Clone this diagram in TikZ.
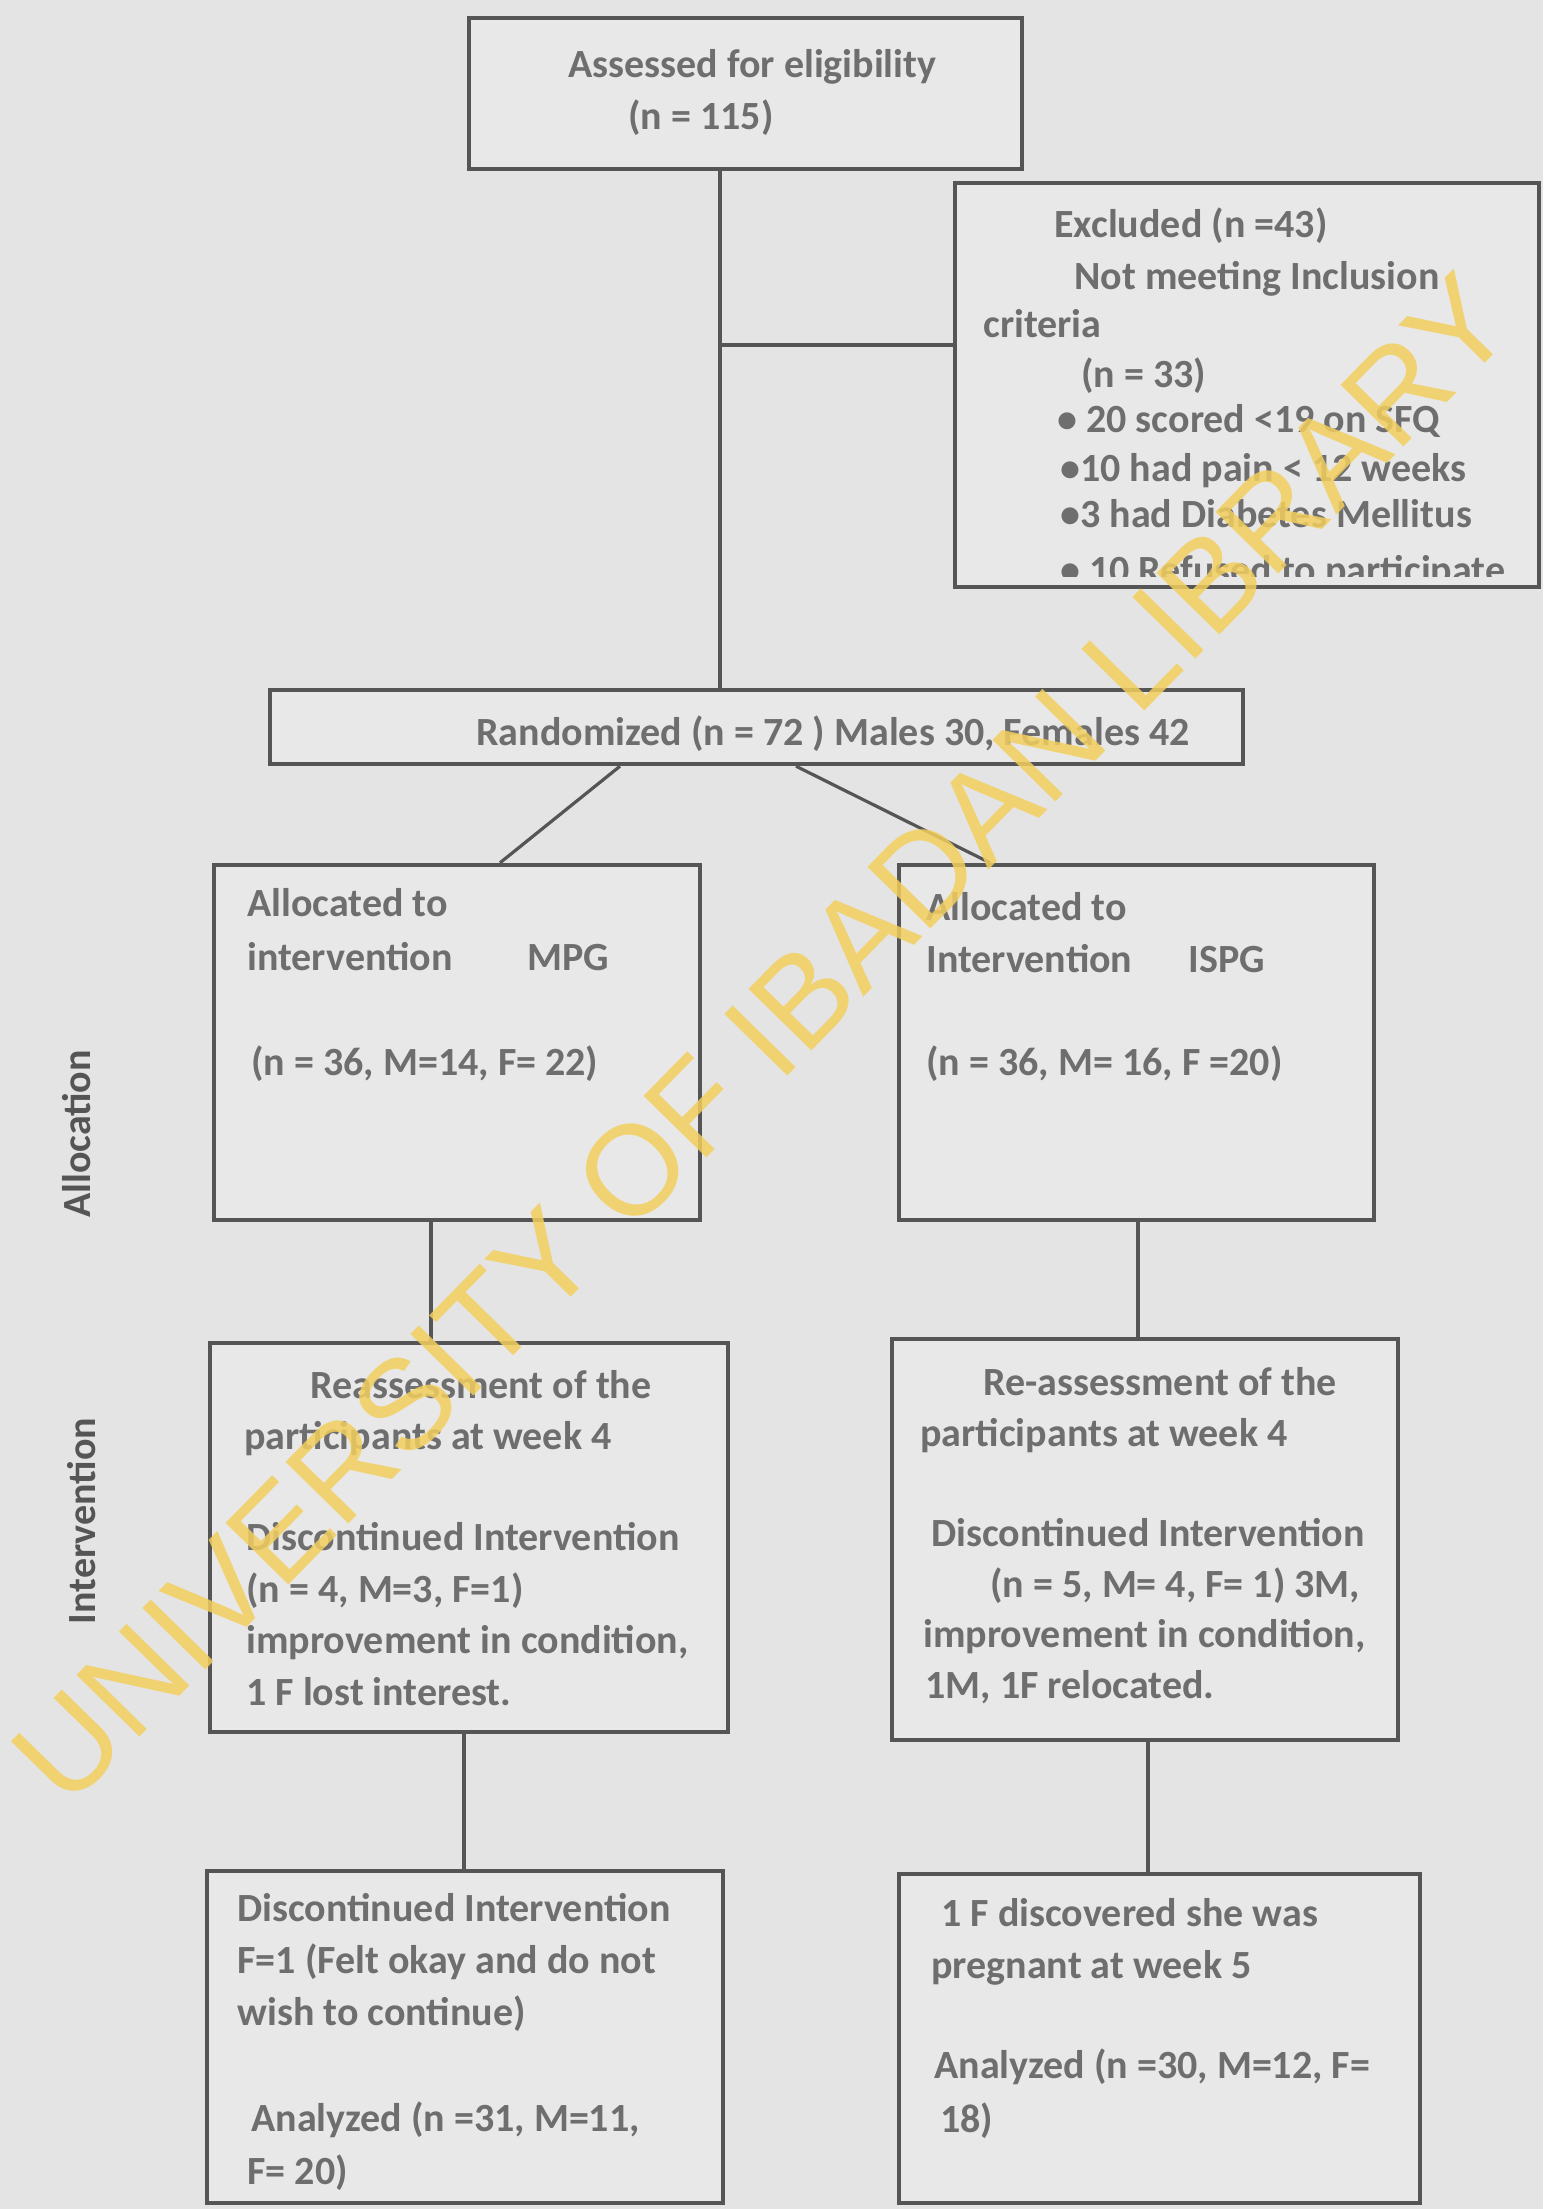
\documentclass[tikz,border=0pt]{standalone}
\usepackage{fontspec}
\setmainfont{Carlito}
\newfontfamily\stampfont{Liberation Sans}
\usepackage{tikz}
\usetikzlibrary{
  positioning,
  fit
}
\definecolor{pagegray}{HTML}{E4E4E4}
\definecolor{boxgray}{HTML}{E8E8E8}
\definecolor{linegray}{HTML}{555555}
\definecolor{textgray}{HTML}{6E6E6E}
\definecolor{stampyellow}{HTML}{F3CF5E}
\tikzset{
  flowbox/.style={draw=linegray, line width=2.2pt, fill=boxgray, inner sep=0pt},
  conn/.style={draw=linegray, line width=1.6pt},
  txt/.style={anchor=base west, inner sep=0pt, text=textgray,
    font=\fontsize{20}{26}\selectfont\bfseries},
  sidelabel/.style={rotate=90, inner sep=0pt, text=linegray,
    font=\fontsize{20}{24}\selectfont\bfseries}
}

\begin{document}
\begin{tikzpicture}[x=0.5pt, y=-0.5pt]
  \fill[pagegray] (0,0) rectangle (1543,2209);
  \useasboundingbox (0,0) rectangle (1543,2209);
  % boxes
  \node[flowbox, fit={(469,18) (1022,169)}] (assess) {};
  \node[flowbox, fit={(955,183) (1539,587)}] (excl) {};
  \node[flowbox, fit={(270,690) (1243,764)}] (rand) {};
  \node[flowbox, fit={(214,865) (700,1220)}] (mpg) {};
  \node[flowbox, fit={(899,865) (1374,1220)}] (ispg) {};
  \node[flowbox, fit={(210,1343) (728,1732)}] (reL) {};
  \node[flowbox, fit={(892,1339) (1398,1740)}] (reR) {};
  \node[flowbox, fit={(207,1871) (723,2203)}] (anL) {};
  \node[flowbox, fit={(899,1874) (1420,2203)}] (anR) {};
  % connectors
  \coordinate (trunk) at (720,345);
  \draw[conn] (assess.south -| trunk) -- (rand.north -| trunk);
  \draw[conn] (trunk) -- (trunk -| excl.west);
  \coordinate (splitL) at (620,0);
  \coordinate (endL) at (500,0);
  \coordinate (splitR) at (796,0);
  \coordinate (endR) at (990,0);
  \draw[conn] (rand.south -| splitL) -- (mpg.north -| endL);
  \draw[conn] (rand.south -| splitR) -- (ispg.north -| endR);
  \coordinate (colA) at (431,0);
  \coordinate (colB) at (464,0);
  \coordinate (colC) at (1138,0);
  \coordinate (colD) at (1148,0);
  \draw[conn] (mpg.south -| colA) -- (reL.north -| colA);
  \draw[conn] (reL.south -| colB) -- (anL.north -| colB);
  \draw[conn] (ispg.south -| colC) -- (reR.north -| colC);
  \draw[conn] (reR.south -| colD) -- (anR.north -| colD);
  % texts
  \node[txt] (as1) at (568,78) {Assessed for eligibility};
  \node[txt] (as2) at (628,130) {(n = 115)};
  \node[txt] (ex1) at (1054,238) {Excluded (n =43)};
  \node[txt] (ex2) at (1074,290) {Not meeting Inclusion};
  \node[txt] (ex3) at (983,338) {criteria};
  \node[txt] (ex4) at (1081,388) {(n = 33)};
  \node[txt] (ex5) at (1057,433) {• 20 scored <19 on SFQ};
  \node[txt] (ex6) at (1060,481) {•10 had pain < 12 weeks};
  \node[txt] (ex7) at (1060,527) {•3 had Diabetes Mellitus};
  \begin{scope}
    \clip (955,183) rectangle (1539,576);
    \node[txt] (ex8) at (1060,583) {• 10 Refused to participate};
  \end{scope}
  \node[txt] (ra1) at (476,745) {Randomized (n = 72 ) Males 30, Females 42};
  \node[txt] (mp1) at (247,916) {Allocated to};
  \node[txt] (mp2) at (247,970) {intervention};
  \node[txt] (mp3) at (527,970) {MPG};
  \node[txt] (mp4) at (251,1075) {(n = 36, M=14, F= 22)};
  \node[txt] (is1) at (926,920) {Allocated to};
  \node[txt] (is2) at (926,972) {Intervention};
  \node[txt] (is3) at (1188,972) {ISPG};
  \node[txt] (is4) at (926,1075) {(n = 36, M= 16, F =20)};
  \node[txt] (rl1) at (310,1398) {Reassessment of the};
  \node[txt] (rl2) at (244,1449) {participants at week 4};
  \node[txt] (rl3) at (246,1550) {Discontinued Intervention};
  \node[txt] (rl4) at (246,1602) {(n = 4, M=3, F=1)};
  \node[txt] (rl5) at (246,1653) {improvement in condition,};
  \node[txt] (rl6) at (246,1705) {1 F lost interest.};
  \node[txt] (rr1) at (983,1395) {Re-assessment of the};
  \node[txt] (rr2) at (920,1446) {participants at week 4};
  \node[txt] (rr3) at (931,1546) {Discontinued Intervention};
  \node[txt] (rr4) at (990,1597) {(n = 5, M= 4, F= 1) 3M,};
  \node[txt] (rr5) at (923,1647) {improvement in condition,};
  \node[txt] (rr6) at (925,1698) {1M, 1F relocated.};
  \node[txt] (al1) at (237,1921) {Discontinued Intervention};
  \node[txt] (al2) at (237,1973) {F=1 (Felt okay and do not};
  \node[txt] (al3) at (237,2025) {wish to continue)};
  \node[txt] (al4) at (251,2131) {Analyzed (n =31, M=11,};
  \node[txt] (al5) at (247,2184) {F= 20)};
  \node[txt] (ar1) at (941,1926) {1 F discovered she was};
  \node[txt] (ar2) at (931,1978) {pregnant at week 5};
  \node[txt] (ar3) at (934,2078) {Analyzed (n =30, M=12, F=};
  \node[txt] (ar4) at (940,2132) {18)};
  % side labels
  \node[sidelabel] (alloc) at (77,1134) {Allocation};
  \node[sidelabel] (interv) at (82,1521) {Intervention};
  % watermark
  \node[rotate=45.6, inner sep=0pt, text=stampyellow, opacity=0.85,
    font=\stampfont\fontsize{64}{64}\selectfont] (stamp) at (762,1039)
    {UNIVERSITY OF IBADAN LIBRARY};
\end{tikzpicture}
\end{document}
